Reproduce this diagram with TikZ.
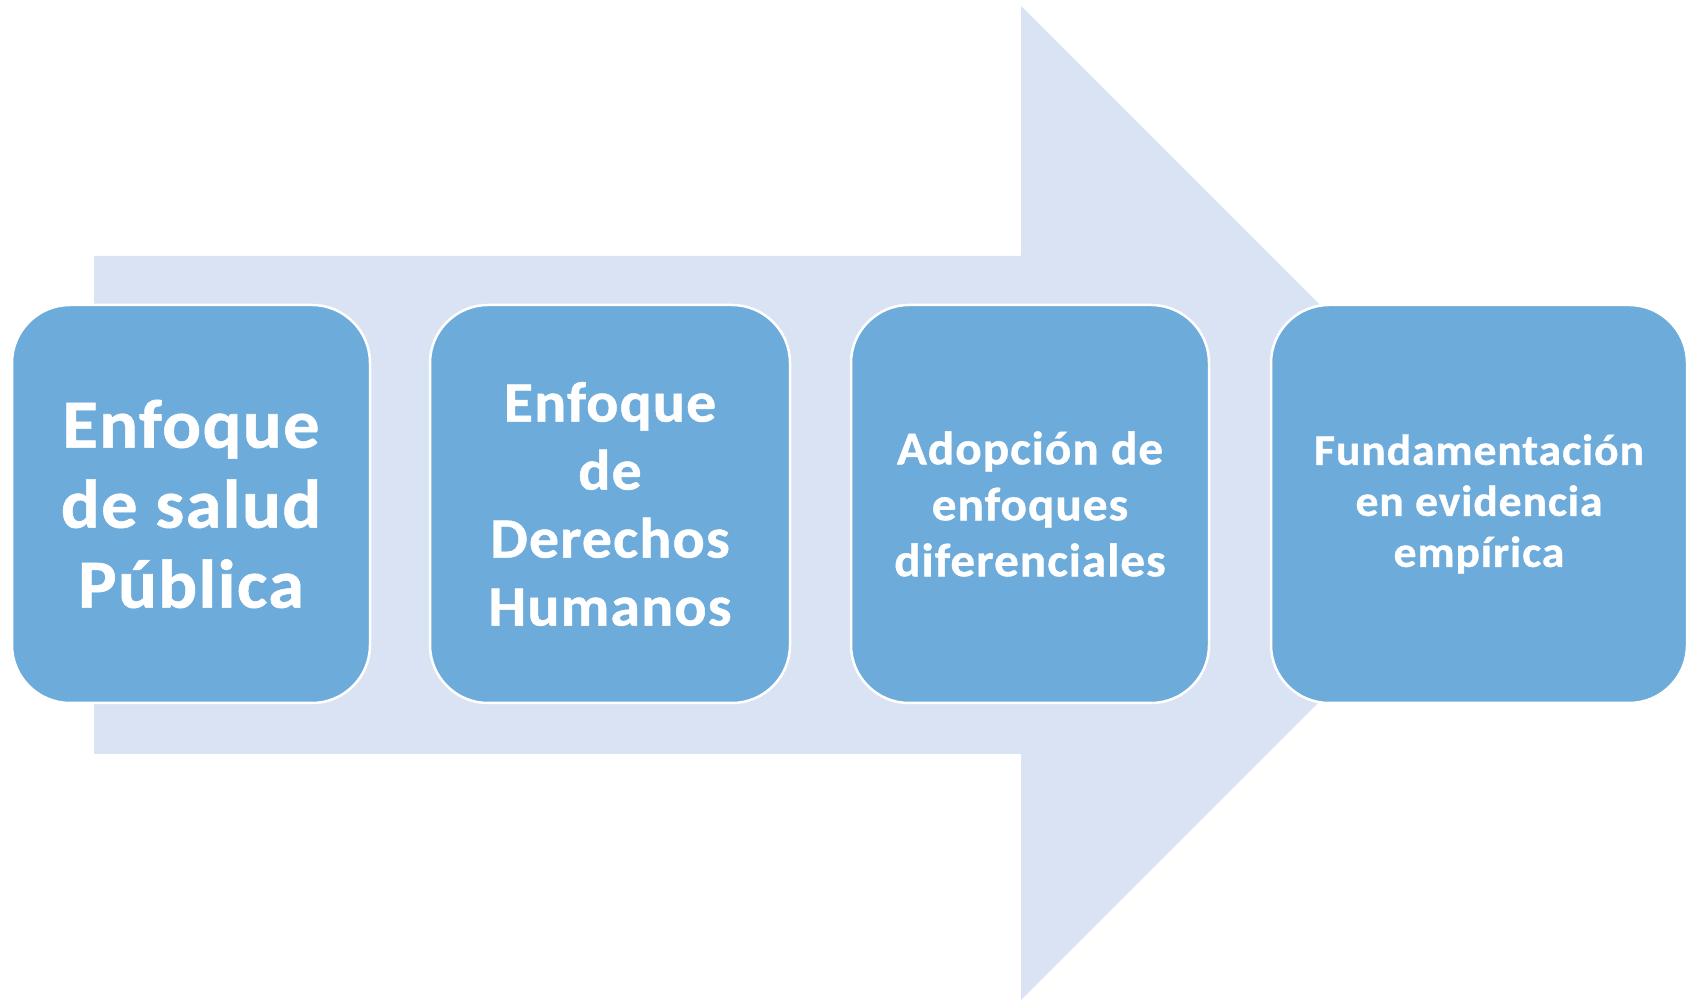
\documentclass[tikz,border=0pt]{standalone}
\usepackage{fontspec}
\setmainfont{Carlito}[FakeStretch=1.05, LetterSpace=2, BoldFeatures={FakeBold=0.8}]
\definecolor{arrowfill}{HTML}{DAE3F3}
\definecolor{boxfill}{HTML}{6DABDB}
\begin{document}
\begin{tikzpicture}[x=1pt,y=1pt,
  stagebox/.style={draw=white, line width=2.5pt, fill=boxfill, rounded corners=58pt,
    minimum height=398pt, inner sep=0pt, text=white, align=center},
  bigarrow/.style={fill=arrowfill, draw=none}]
\useasboundingbox (0,0) rectangle (1696,1001);
\fill[white] (0,0) rectangle (1696,1001);
% big background arrow (y = 1001 - image y)
\path[bigarrow] (94,745) -- (1021,745) -- (1021,995) -- (1518,498) -- (1021,1) -- (1021,247) -- (94,247) -- cycle;
\node[stagebox, minimum width=358pt, font=\fontsize{69}{80}\selectfont\bfseries] (b1) at (191,497)
  {Enfoque\\de salud\\Pública};
\node[stagebox, minimum width=360pt, font=\fontsize{57}{68}\selectfont\bfseries] (b2) at (610,497)
  {Enfoque\\de\\Derechos\\Humanos};
\node[stagebox, minimum width=358pt, font=\fontsize{47}{56}\selectfont\bfseries] (b3) at (1030,497)
  {Adopción de\\enfoques\\diferenciales};
\node[stagebox, minimum width=416pt, font=\fontsize{43.5}{51}\selectfont\bfseries] (b4) at (1479,497)
  {Fundamentación\\en evidencia\\empírica};
\end{tikzpicture}
\end{document}
